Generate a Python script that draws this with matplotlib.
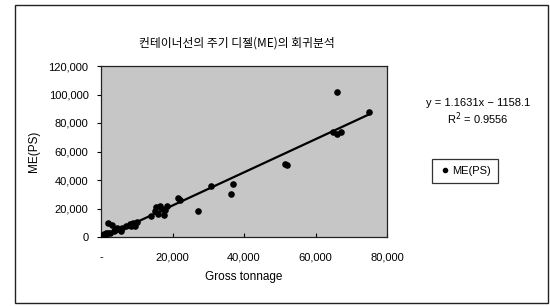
import matplotlib
matplotlib.use("Agg")
import matplotlib.pyplot as plt
from matplotlib.patches import Rectangle
from matplotlib.lines import Line2D
import numpy as np

plt.rcParams['font.family'] = ['Liberation Sans', 'DejaVu Sans']

title = "컨테이너선의 주기 디젤(ME)의 회귀분석"
x_label = "Gross tonnage"
y_label = "ME(PS)"
series_name = "ME(PS)"

gt = [500, 800, 1200, 1500, 2000, 2500, 2000, 3000, 3500, 4000, 4500, 5000, 5500,
      6000, 7000, 8000, 8500, 9000, 9500, 10000,
      14000, 15000, 15500, 16000, 16500, 17000, 17500, 18000, 18500, 21500, 22000,
      27000, 30700, 36500, 37000, 51500, 52000, 65000, 66000, 67000, 66000, 75000]
me = [1500, 2000, 1000, 2500, 3000, 2500, 10000, 8500, 4000, 5000, 6000, 5500, 4500,
      6500, 7500, 9000, 8000, 10000, 7500, 10500,
      14500, 18000, 21000, 16000, 22000, 20000, 15500, 19000, 21500, 27500, 26000,
      18000, 36000, 30000, 37000, 51000, 50500, 73500, 72500, 74000, 102000, 88000]

slope = 1.1631
intercept = -1158.1
r2_text = "0.9556"

x_ticks = [0, 20000, 40000, 60000, 80000]
y_ticks = [0, 20000, 40000, 60000, 80000, 100000, 120000]

W, H = 550, 306
fig = plt.figure(figsize=(W / 100, H / 100), dpi=100)
fig.patch.set_facecolor('white')

# outer frame
fig.patches.append(Rectangle((15 / W, 1 - 303 / H), (548 - 15) / W, (303 - 5) / H,
                             transform=fig.transFigure, fill=False,
                             edgecolor='#222222', linewidth=1.0))

ax = fig.add_axes([101 / W, 1 - 237 / H, 286 / W, 171 / H])
ax.set_facecolor('#c6c6c6')
ax.scatter(gt, me, s=14, color='black', zorder=3)
xs = np.array([min(gt), max(gt)])
ax.plot(xs, slope * xs + intercept, color='black', linewidth=1.6, zorder=2)

ax.set_xlim(0, 80000)
ax.set_ylim(0, 120000)
ax.set_xticks(x_ticks)
ax.set_yticks(y_ticks)
ax.set_xticklabels(['-' if v == 0 else f"{v:,}" for v in x_ticks], fontsize=8)
ax.set_yticklabels([f"{v:,}" for v in y_ticks], fontsize=8)
ax.tick_params(axis='x', direction='in', length=3, pad=11, width=0.8)
ax.tick_params(axis='y', direction='out', length=3, pad=6, width=0.8)
for s in ax.spines.values():
    s.set_linewidth(0.9)
    s.set_color('#222222')

ax.set_xlabel(x_label, fontsize=8.5, labelpad=6)
ax.set_ylabel(y_label, fontsize=8.5, labelpad=6)

fig.text(237 / W, 1 - 43 / H, title, ha='center', va='center', fontsize=8.5,
         family=['Noto Sans CJK KR', 'DejaVu Sans'])

fig.text(478 / W, 1 - 103 / H, f"y = {slope}x − {abs(intercept)}", ha='center',
         va='center', fontsize=8)
fig.text(478 / W, 1 - 119 / H, f"R$^2$ = {r2_text}", ha='center', va='center',
         fontsize=8)

handle = Line2D([], [], marker='o', linestyle='none', color='black', markersize=3)
leg = fig.legend([handle], [series_name], loc='center',
                 bbox_to_anchor=(465 / W, 1 - 171 / H), fontsize=8,
                 frameon=True, fancybox=False, handletextpad=0.2,
                 borderpad=0.6, handlelength=1.0)
leg.get_frame().set_edgecolor('black')
leg.get_frame().set_linewidth(0.9)

fig.savefig("out.png", dpi=100)
